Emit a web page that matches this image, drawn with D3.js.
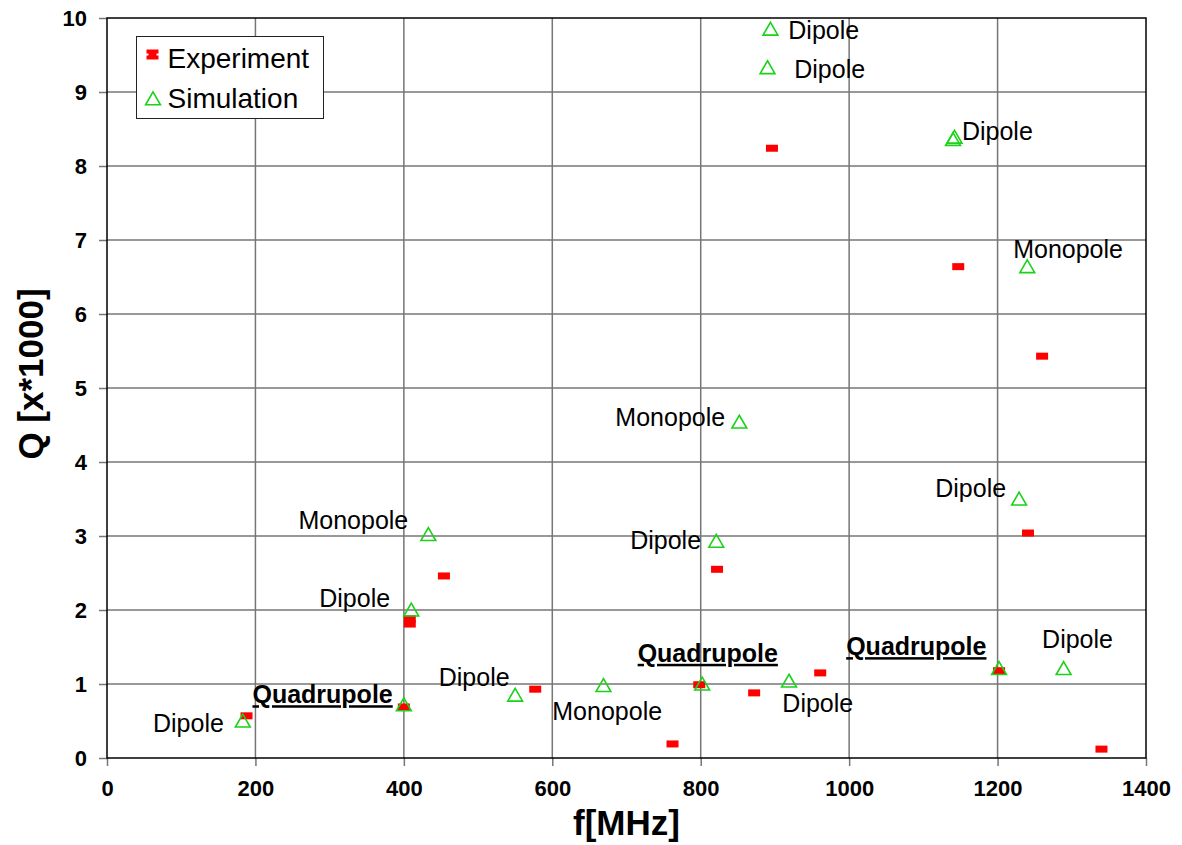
<!DOCTYPE html>
<html>
<head>
<meta charset="utf-8">
<script src="https://cdn.jsdelivr.net/npm/d3@7"></script>
<style>
  html, body { margin: 0; padding: 0; background: #fff; }
  svg { display: block; font-family: Arial, "Liberation Sans", sans-serif; }
</style>
</head>
<body>
<div id="chart"></div>
<script>
// Q factor vs frequency - experiment against simulation
(function () {
  ///////////////////////////////////////////////////////////// ! Data
  const expFreq = [188, 408, 408, 400, 454, 577, 762, 798, 872, 961, 822, 896, 1147, 1260, 1241, 1202, 1340];
  const expQ = [0.57, 1.88, 1.81, 0.69, 2.46, 0.93, 0.19, 0.99, 0.88, 1.15, 2.55, 8.24, 6.64, 5.43, 3.04, 1.18, 0.12];

  const simFreq = [183, 400, 410, 433, 550, 669, 802, 919, 821, 852, 1229, 1202, 1289, 1240, 1140, 1142, 894, 890];
  const simQ = [0.49, 0.71, 1.99, 3.01, 0.84, 0.97, 0.99, 1.03, 2.92, 4.53, 3.49, 1.20, 1.20, 6.63, 8.35, 8.38, 9.84, 9.32];

  // mode annotations (anchored at start of text, baseline)
  const labelText = ["Dipole", "Quadrupole", "Dipole", "Monopole", "Dipole", "Monopole", "Quadrupole", "Dipole",
    "Quadrupole", "Dipole", "Dipole", "Dipole", "Monopole", "Monopole", "Dipole", "Dipole", "Dipole"];
  const labelFreq = [62, 196, 286, 258, 447, 600, 715, 910, 996, 1260, 1116, 705, 685, 1221, 1152, 918, 926];
  const labelQ = [0.35, 0.74, 2.04, 3.09, 0.97, 0.51, 1.30, 0.62, 1.39, 1.49, 3.53, 2.82, 4.49, 6.76, 8.35, 9.72, 9.19];
  const labelStrong = [false, true, false, false, false, false, true, false, true, false, false, false, false, false, false, false, false];

  const xTicks = [0, 200, 400, 600, 800, 1000, 1200, 1400];
  const yTicks = [0, 1, 2, 3, 4, 5, 6, 7, 8, 9, 10];

  ///////////////////////////////////////////////////////////// ! Setup
  const fullWidth = 1182;
  const fullHeight = 845;
  const margin = { top: 18, right: 36, bottom: 87, left: 107 };
  const width = fullWidth - margin.left - margin.right;
  const height = fullHeight - margin.top - margin.bottom;

  const svgRoot = d3.select("#chart")
    .append("svg")
    .attr("width", fullWidth)
    .attr("height", fullHeight);

  const svg = svgRoot.append("g")
    .attr("transform", `translate(${margin.left},${margin.top})`);

  const xScale = d3.scaleLinear().domain([0, 1400]).range([0, width]);
  const yScale = d3.scaleLinear().domain([0, 10]).range([height, 0]);

  const gridColor = "#767676";

  ///////////////////////////////////////////////////////////// ! Grid
  svg.append("g")
    .selectAll("line")
    .data(xTicks.slice(1, -1))
    .enter()
    .append("line")
    .attr("x1", (d) => xScale(d))
    .attr("x2", (d) => xScale(d))
    .attr("y1", 0)
    .attr("y2", height)
    .attr("stroke", gridColor)
    .attr("stroke-width", 1.5);

  svg.append("g")
    .selectAll("line")
    .data(yTicks.slice(1, -1))
    .enter()
    .append("line")
    .attr("x1", 0)
    .attr("x2", width)
    .attr("y1", (d) => yScale(d))
    .attr("y2", (d) => yScale(d))
    .attr("stroke", gridColor)
    .attr("stroke-width", 1.5);

  ///////////////////////////////////////////////////////////// ! Axes
  const xAxis = svg.append("g")
    .attr("transform", `translate(0,${height})`)
    .call(d3.axisBottom(xScale).tickValues(xTicks).tickFormat(d3.format("d")).tickSize(8).tickPadding(14));

  const yAxis = svg.append("g")
    .call(d3.axisLeft(yScale).tickValues(yTicks).tickFormat(d3.format("d")).tickSize(8).tickPadding(12));

  [xAxis, yAxis].forEach((ax) => {
    ax.select(".domain").remove();
    ax.selectAll(".tick line").attr("stroke", gridColor).attr("stroke-width", 1.5);
    ax.selectAll("text")
      .attr("fill", "#000")
      .style("font-size", "22px")
      .style("font-weight", "bold")
      .style("font-family", "Arial, 'Liberation Sans', sans-serif");
  });

  // plot frame
  svg.append("rect")
    .attr("x", 0)
    .attr("y", 0)
    .attr("width", width)
    .attr("height", height)
    .attr("fill", "none")
    .attr("stroke", "#000")
    .attr("stroke-width", 1.5);

  // axis titles
  svg.append("text")
    .attr("x", width / 2)
    .attr("y", height + 77)
    .attr("text-anchor", "middle")
    .style("font-size", "35px")
    .style("font-weight", "bold")
    .text("f[MHz]");

  svg.append("text")
    .attr("transform", "rotate(-90)")
    .attr("x", -(yScale(5) - 14))
    .attr("y", -margin.left + 43)
    .attr("text-anchor", "middle")
    .style("font-size", "35px")
    .style("font-weight", "bold")
    .text("Q [x*1000]");

  ///////////////////////////////////////////////////////////// ! Annotations
  svg.append("g")
    .selectAll("text")
    .data(labelText)
    .enter()
    .append("text")
    .attr("x", (d, i) => xScale(labelFreq[i]))
    .attr("y", (d, i) => yScale(labelQ[i]))
    .style("font-size", "25px")
    .style("font-weight", (d, i) => (labelStrong[i] ? "bold" : "normal"))
    .style("text-decoration", (d, i) => (labelStrong[i] ? "underline" : "none"))
    .text((d) => d);

  ///////////////////////////////////////////////////////////// ! Data Points
  const triangle = d3.symbol().type(d3.symbolTriangle).size(95);

  svg.append("g")
    .selectAll("rect")
    .data(expFreq)
    .enter()
    .append("rect")
    .attr("x", (d) => xScale(d) - 6)
    .attr("y", (d, i) => yScale(expQ[i]) - 3.5)
    .attr("width", 12)
    .attr("height", 7)
    .attr("fill", "#ff0000");

  svg.append("g")
    .selectAll("path")
    .data(simFreq)
    .enter()
    .append("path")
    .attr("d", triangle)
    .attr("transform", (d, i) => `translate(${xScale(d)},${yScale(simQ[i]) + 1})`)
    .attr("fill", "none")
    .attr("stroke", "#19d219")
    .attr("stroke-width", 1.6);

  ///////////////////////////////////////////////////////////// ! Legend
  const legend = svgRoot.append("g").attr("transform", "translate(136.5,36.5)");

  legend.append("rect")
    .attr("width", 187)
    .attr("height", 82)
    .attr("fill", "#fff")
    .attr("stroke", "#222")
    .attr("stroke-width", 1);

  // experiment marker with error-bar caps
  legend.append("path")
    .attr("d", "M10,13h12v4h-2v2h2v4h-12v-4h2v-2h-2z")
    .attr("fill", "#ff0000");

  legend.append("path")
    .attr("d", triangle)
    .attr("transform", "translate(16.5,64)")
    .attr("fill", "none")
    .attr("stroke", "#19d219")
    .attr("stroke-width", 1.6);

  legend.append("text")
    .attr("x", 31)
    .attr("y", 31)
    .style("font-size", "28px")
    .text("Experiment");

  legend.append("text")
    .attr("x", 31)
    .attr("y", 71)
    .style("font-size", "28px")
    .text("Simulation");
})();
</script>
</body>
</html>
